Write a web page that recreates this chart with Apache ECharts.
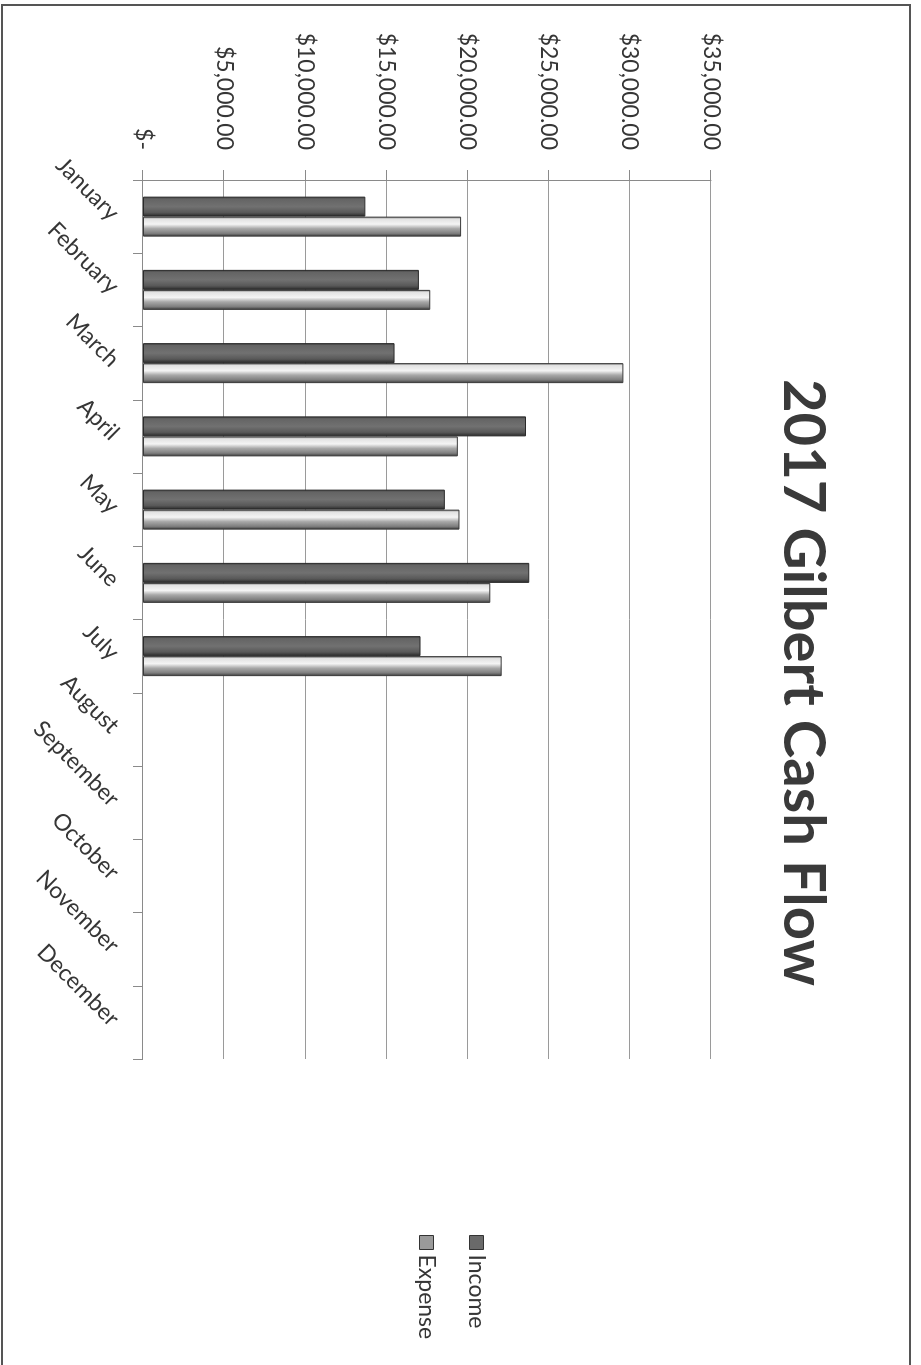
<!DOCTYPE html>
<html>
<head>
<meta charset="utf-8">
<script src="https://cdn.jsdelivr.net/npm/echarts@6/dist/echarts.min.js"></script>
<style>
  html, body { margin: 0; padding: 0; background: #fff; overflow: hidden; width: 921px; height: 1365px; }
  #chart { position: absolute; left: 0; top: 0; width: 1365px; height: 921px;
           transform-origin: 0 0; transform: translate(921px, 0) rotate(90deg); }
</style>
</head>
<body>
<div id="chart"></div>
<script>
const titleText = '2017 Gilbert Cash Flow';
const months = ['January','February','March','April','May','June','July','August','September','October','November','December'];
const income = [13700, 17000, 15500, 23600, 18600, 23800, 17100];
const expense = [19600, 17700, 29600, 19400, 19500, 21400, 22100];
const valueMin = 0, valueMax = 35000, valueStep = 5000;

const font = 'Lato, "Open Sans", sans-serif';
const textColor = '#363636';

function money(v) {
  if (v === 0) return '$-';
  return '$' + v.toLocaleString('en-US', { minimumFractionDigits: 2, maximumFractionDigits: 2 });
}

const incomeFill = { type: 'linear', x: 0, y: 0, x2: 1, y2: 0, colorStops: [
  { offset: 0, color: '#3a3a3a' }, { offset: 0.12, color: '#646464' },
  { offset: 0.5, color: '#717171' }, { offset: 0.8, color: '#585858' },
  { offset: 1, color: '#262626' } ] };
const expenseFill = { type: 'linear', x: 0, y: 0, x2: 1, y2: 0, colorStops: [
  { offset: 0, color: '#707070' }, { offset: 0.12, color: '#e2e2e2' },
  { offset: 0.38, color: '#f4f4f4' }, { offset: 0.6, color: '#a8a8a8' },
  { offset: 0.84, color: '#7e7e7e' }, { offset: 1, color: '#363636' } ] };

const chart = echarts.init(document.getElementById('chart'), null, { renderer: 'canvas' });
chart.setOption({
  animation: false,
  backgroundColor: '#ffffff',
  title: {
    text: titleText, left: 'center', top: 84,
    textStyle: { fontFamily: font, fontSize: 58, fontWeight: 'bold', color: '#3a3a3a' }
  },
  legend: {
    orient: 'vertical', left: 1230, top: 428,
    itemWidth: 14, itemHeight: 14, itemGap: 27, itemTextGap: 9,
    textStyle: { fontFamily: font, fontSize: 23, color: textColor },
    data: [
      { name: 'Income', icon: 'rect', itemStyle: { color: '#6a6a6a', borderColor: '#333', borderWidth: 1 } },
      { name: 'Expense', icon: 'rect', itemStyle: { color: '#9a9a9a', borderColor: '#333', borderWidth: 1 } }
    ]
  },
  grid: { left: 180, right: 306, top: 210, bottom: 143, containLabel: false },
  xAxis: {
    type: 'category', data: months, boundaryGap: true,
    axisLine: { show: true, lineStyle: { color: '#8a8a8a', width: 1 } },
    axisTick: { show: true, length: 10, lineStyle: { color: '#8a8a8a' } },
    axisLabel: { rotate: 45, margin: 28, interval: 0, fontFamily: font, fontSize: 23, color: textColor },
    splitLine: { show: false }
  },
  yAxis: {
    type: 'value', min: valueMin, max: valueMax, interval: valueStep,
    axisLine: { show: true, lineStyle: { color: '#8a8a8a', width: 1 } },
    axisTick: { show: true, length: 10, lineStyle: { color: '#8a8a8a' } },
    axisLabel: { margin: 30, fontFamily: font, fontSize: 23, color: textColor, formatter: money },
    splitLine: { show: true, lineStyle: { color: '#9a9a9a', width: 1 } }
  },
  series: [
    { name: 'Income', type: 'bar', data: income, barWidth: 20, barGap: '0%',
      itemStyle: { color: incomeFill, borderColor: '#2a2a2a', borderWidth: 1 } },
    { name: 'Expense', type: 'bar', data: expense, barWidth: 20,
      itemStyle: { color: expenseFill, borderColor: '#3a3a3a', borderWidth: 1 } }
  ],
  graphic: [
    { type: 'rect', silent: true, z: -1,
      shape: { x: 5, y: 11, width: 1375, height: 908 },
      style: { fill: 'none', stroke: '#555555', lineWidth: 2 } }
  ]
});
</script>
</body>
</html>
